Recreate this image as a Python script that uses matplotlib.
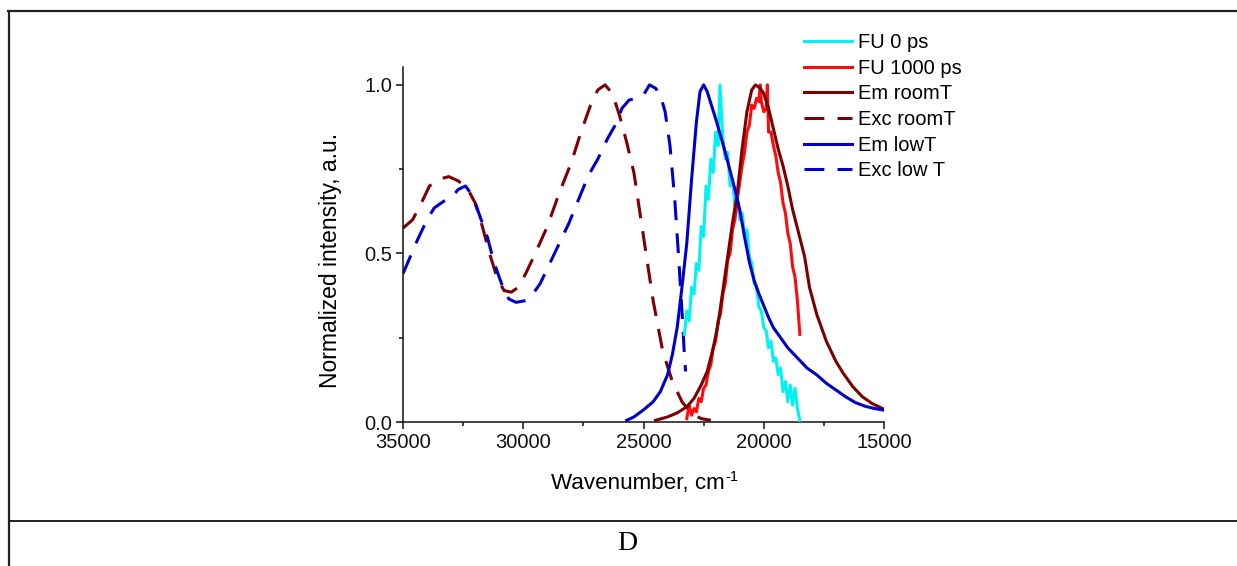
import matplotlib
matplotlib.use("Agg")
import matplotlib.pyplot as plt
from matplotlib.lines import Line2D
from matplotlib.ticker import MultipleLocator

# ---------------- data ----------------
exc_room_w = [35000, 34600, 34200, 33900, 33500, 33100, 32700, 32300, 32000, 31700,
              31400, 31100, 30800, 30500, 30200, 29900, 29500, 29000, 28500, 28000,
              27600, 27200, 26900, 26600, 26300, 26000, 25700, 25400, 25000, 24600,
              24200, 23800, 23400, 23000, 22600, 22200]
exc_room_y = [0.575, 0.60, 0.655, 0.70, 0.72, 0.728, 0.715, 0.69, 0.65, 0.58,
              0.50, 0.43, 0.39, 0.385, 0.40, 0.44, 0.50, 0.58, 0.68, 0.77,
              0.86, 0.94, 0.985, 1.0, 0.975, 0.91, 0.83, 0.74, 0.55, 0.36,
              0.21, 0.12, 0.06, 0.025, 0.01, 0.005]

exc_low_w = [35000, 34700, 34400, 34000, 33700, 33300, 33000, 32700, 32400, 32100,
             31800, 31500, 31200, 30900, 30600, 30300, 29900, 29600, 29300, 28900,
             28500, 28100, 27700, 27300, 26900, 26500, 26100, 25900, 25600, 25300,
             25000, 24750, 24500, 24300, 24100, 23900, 23700, 23550, 23400, 23300, 23250]
exc_low_y = [0.44, 0.49, 0.54, 0.60, 0.635, 0.655, 0.665, 0.69, 0.70, 0.67,
             0.61, 0.55, 0.47, 0.41, 0.365, 0.355, 0.36, 0.38, 0.41, 0.47,
             0.53, 0.59, 0.66, 0.73, 0.78, 0.84, 0.89, 0.93, 0.955, 0.96,
             0.97, 1.0, 0.99, 0.97, 0.92, 0.82, 0.66, 0.50, 0.33, 0.20, 0.15]

em_low_w = [25700, 25400, 25000, 24600, 24300, 24000, 23800, 23600, 23400, 23200,
            23000, 22800, 22650, 22500, 22350, 22200, 22000, 21800, 21600, 21400,
            21200, 21000, 20800, 20600, 20400, 20200, 20000, 19800, 19600, 19300,
            19000, 18600, 18200, 17800, 17400, 17000, 16600, 16200, 15800, 15400, 15000]
em_low_y = [0.005, 0.015, 0.036, 0.06, 0.09, 0.14, 0.20, 0.28, 0.40, 0.53,
            0.72, 0.89, 0.98, 1.0, 0.98, 0.945, 0.90, 0.85, 0.80, 0.745,
            0.69, 0.63, 0.55, 0.475, 0.42, 0.38, 0.345, 0.31, 0.28, 0.25,
            0.22, 0.19, 0.16, 0.14, 0.115, 0.095, 0.075, 0.058, 0.047, 0.04, 0.035]

em_room_w = [24500, 24000, 23600, 23200, 22900, 22600, 22350, 22100, 21900, 21700,
             21500, 21300, 21100, 20900, 20700, 20500, 20350, 20150, 20000, 19800,
             19600, 19400, 19200, 19000, 18800, 18600, 18300, 18100, 17800, 17400,
             17000, 16700, 16300, 15900, 15500, 15000]
em_room_y = [0.005, 0.015, 0.027, 0.045, 0.07, 0.11, 0.15, 0.22, 0.29, 0.39,
             0.49, 0.59, 0.68, 0.81, 0.92, 0.985, 1.0, 0.99, 0.975, 0.93,
             0.87, 0.81, 0.76, 0.70, 0.63, 0.575, 0.49, 0.40, 0.32, 0.24,
             0.18, 0.145, 0.105, 0.075, 0.055, 0.038]

fu1000_w = [23200, 23100, 23000, 22900, 22800, 22700, 22600, 22500, 22400, 22300,
            22200, 22100, 22000, 21900, 21800, 21700, 21600, 21500, 21400, 21300,
            21200, 21100, 21000, 20900, 20800, 20700, 20600, 20500, 20400, 20300,
            20200, 20150, 20100, 20000, 19900, 19850, 19800, 19700, 19600, 19500,
            19400, 19300, 19200, 19100, 19000, 18900, 18800, 18700, 18600, 18500]
fu1000_y = [0.01, 0.05, 0.02, 0.04, 0.03, 0.07, 0.06, 0.10, 0.11, 0.15,
            0.17, 0.22, 0.24, 0.30, 0.32, 0.38, 0.41, 0.48, 0.50, 0.57,
            0.60, 0.66, 0.71, 0.76, 0.80, 0.86, 0.88, 0.94, 0.93, 0.96,
            0.95, 1.00, 0.95, 0.92, 0.93, 1.00, 0.86, 0.86, 0.82, 0.79,
            0.74, 0.71, 0.65, 0.62, 0.56, 0.53, 0.46, 0.43, 0.36, 0.26]

fu0_w = [23300, 23200, 23100, 23000, 22900, 22800, 22700, 22600, 22500, 22400,
         22300, 22200, 22100, 22000, 21900, 21820, 21700, 21600, 21500, 21400,
         21300, 21200, 21100, 21000, 20900, 20800, 20700, 20600, 20500, 20400,
         20300, 20200, 20100, 20000, 19900, 19800, 19700, 19600, 19500, 19400,
         19300, 19200, 19100, 19000, 18900, 18800, 18700, 18600, 18500]
fu0_y = [0.26, 0.33, 0.30, 0.40, 0.38, 0.47, 0.45, 0.58, 0.55, 0.70,
         0.66, 0.78, 0.74, 0.86, 0.82, 1.00, 0.84, 0.78, 0.80, 0.70,
         0.72, 0.64, 0.67, 0.60, 0.62, 0.55, 0.57, 0.49, 0.47, 0.41,
         0.40, 0.34, 0.33, 0.28, 0.27, 0.22, 0.24, 0.18, 0.19, 0.14,
         0.16, 0.09, 0.12, 0.06, 0.11, 0.05, 0.10, 0.04, 0.005]

labels = ["FU 0 ps", "FU 1000 ps", "Em roomT", "Exc roomT", "Em lowT", "Exc low T"]
xticks = [35000, 30000, 25000, 20000, 15000]
yticks = [0.0, 0.5, 1.0]

# ---------------- styling ----------------
plt.rcParams['font.family'] = ['Liberation Sans', 'DejaVu Sans']

W, H = 1237, 566
fig = plt.figure(figsize=(W / 100, H / 100), dpi=100)

def hline(y, x0, x1, lw=1.4):
    fig.add_artist(Line2D([x0 / W, x1 / W], [1 - y / H, 1 - y / H],
                          transform=fig.transFigure, color='#222222', lw=lw,
                          solid_capstyle='butt'))

def vline(x, y0, y1, lw=1.4):
    fig.add_artist(Line2D([x / W, x / W], [1 - y0 / H, 1 - y1 / H],
                          transform=fig.transFigure, color='#222222', lw=lw,
                          solid_capstyle='butt'))

hline(10.5, 7.5, W, lw=1.6)
vline(8.5, 9.5, H, lw=1.6)
hline(520.5, 8, W, lw=1.4)

fig.text(627 / W, 1 - 544 / H, "D", family=['Liberation Serif', 'DejaVu Serif'],
         fontsize=20, ha='center', va='center')

ax_l, ax_r, ax_b, ax_t = 403, 884, 422, 67
ax = fig.add_axes([ax_l / W, 1 - ax_b / H, (ax_r - ax_l) / W, (ax_b - ax_t) / H])

cyan = '#00f2f2'
red = '#ff0a0a'
wine = '#7c0000'
blue = '#0000cc'
lw = 2.2
dash = (6.5, 4.3)

ax.plot(fu0_w, fu0_y, color=cyan, lw=lw, label=labels[0], zorder=3)
ax.plot(fu1000_w, fu1000_y, color=red, lw=lw, label=labels[1], zorder=3)
ax.plot(em_room_w, em_room_y, color=wine, lw=lw, label=labels[2], zorder=4)
ax.plot(exc_room_w, exc_room_y, color=wine, lw=lw, ls=(0, dash), label=labels[3], zorder=2)
ax.plot(em_low_w, em_low_y, color=blue, lw=lw, label=labels[4], zorder=4)
ax.plot(exc_low_w, exc_low_y, color=blue, lw=lw, ls=(0, dash), label=labels[5], zorder=2)

ax.set_xlim(35000, 15000)
ax.set_ylim(0, 1.053)
ax.set_xticks(xticks)
ax.set_yticks(yticks)
ax.set_yticklabels([f"{v:.1f}" for v in yticks])
ax.xaxis.set_minor_locator(MultipleLocator(2500))
ax.yaxis.set_minor_locator(MultipleLocator(0.25))

for s in ['top', 'right']:
    ax.spines[s].set_visible(False)
for s in ['left', 'bottom']:
    ax.spines[s].set_linewidth(1.1)
    ax.spines[s].set_color('#111111')

ax.tick_params(which='major', direction='out', length=5, width=1.1, labelsize=14.5,
               pad=3, colors='#111111')
ax.tick_params(which='minor', direction='out', length=3, width=1.1, colors='#111111')

ax.set_xlabel("Wavenumber, cm", fontsize=16.1)
ax.set_ylabel("Normalized intensity, a.u.", fontsize=16.5)
ax.xaxis.set_label_coords(0.5 - 6 / 481, -0.144)
ax.yaxis.set_label_coords(-0.127, 0.456)

leg = fig.legend(loc='upper left', bbox_to_anchor=(804 / W, 1 - 33 / H),
                 frameon=False, fontsize=14.5, handlelength=2.4, handletextpad=0.3,
                 labelspacing=0.33, borderpad=0, borderaxespad=0)

# superscript "-1" right after the x label
fig.canvas.draw()
bb = ax.xaxis.label.get_window_extent()
baseline = bb.y0 + 0.21 * 16.1 * 100 / 72
fig.text((bb.x1 + 1) / W, (baseline + 8) / H, "-1", fontsize=10.5,
         ha='left', va='baseline')

fig.savefig("out.png", dpi=100)
